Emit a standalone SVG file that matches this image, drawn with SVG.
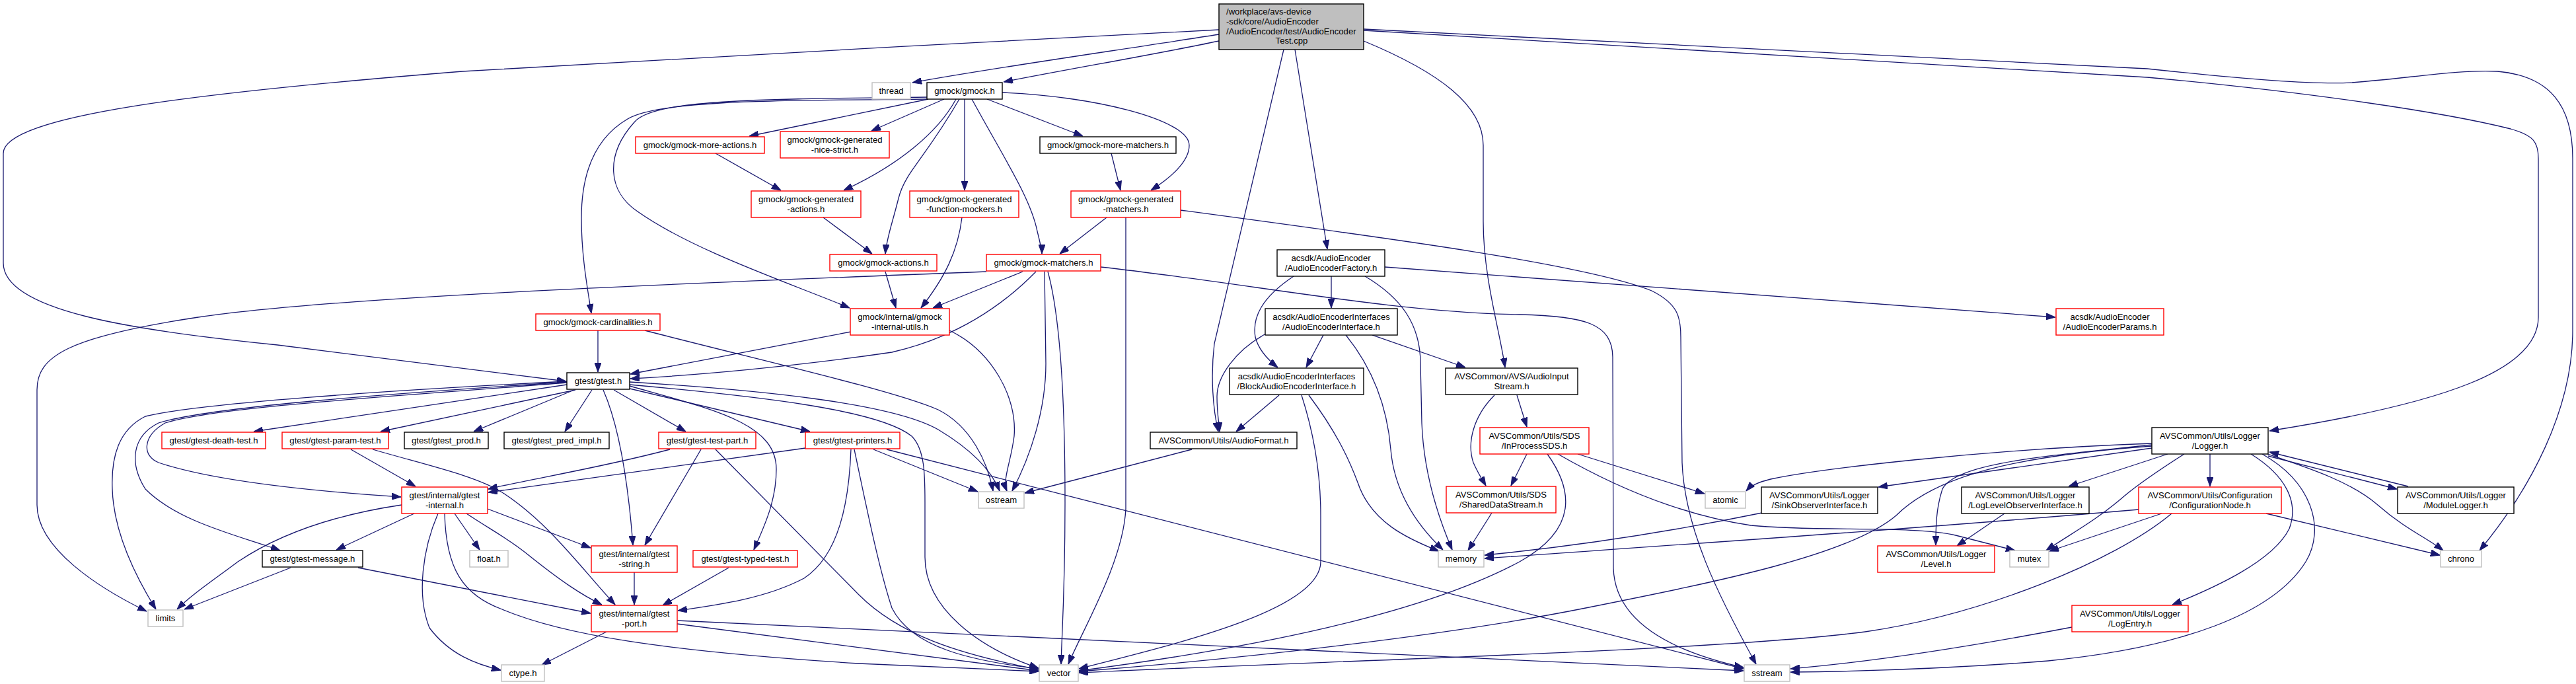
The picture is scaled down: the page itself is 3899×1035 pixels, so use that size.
<svg xmlns="http://www.w3.org/2000/svg" width="3899" height="1035" viewBox="0 0 3899 1035">
<style>
rect{fill:#fff;stroke:#000;stroke-width:1.4}
.r rect{stroke:#ff0000}
.g rect{stroke:#bfbfbf}
.m rect{fill:#bfbfbf;stroke:#000}
text{font-family:"Liberation Sans",Arial,sans-serif;font-size:13.1px;text-anchor:middle;fill:#000}
.m text{text-anchor:start}
#edges path{fill:none;stroke:#191970;stroke-width:1.3;marker-end:url(#a)}
</style>
<defs>
<marker id="a" markerWidth="14" markerHeight="10" refX="14" refY="5" orient="auto" markerUnits="userSpaceOnUse"><path d="M0,0 L14,5 L0,10 z" fill="#191970" stroke="#191970"/></marker>
</defs>
<rect x="0" y="0" width="3899" height="1035" style="fill:#fff;stroke:none"/>
<g id="edges">
<path d="M1845,52 C1700,75 1500,103 1381,125"/>
<path d="M1845,62 C1750,82 1620,104 1519,124"/>
<path d="M1845,45 C1500,62 900,96 700,108 C300,140 5,175 5,232 L5,398 C5,470 200,500 420,522 C600,545 760,565 857,577"/>
<path d="M1960,75 L2009,377"/>
<path d="M1943,75 L1838,520 C1832,570 1836,620 1844,653"/>
<path d="M2064,62 C2180,110 2245,160 2245,220 L2245,335 C2245,420 2270,500 2278,556"/>
<path d="M2064,46 L3250,117 C3500,140 3700,170 3800,195 C3835,205 3842,215 3842,240 L3842,480 C3842,560 3700,610 3435,652"/>
<path d="M2064,44 L3250,104 C3400,120 3500,128 3560,125 C3650,118 3720,105 3780,108 C3860,115 3894,160 3894,240 L3894,500 C3894,620 3830,740 3753,833"/>
<path d="M1405,150 L1134,206"/>
<path d="M1429,150 L1319,198"/>
<path d="M1447,150 C1420,200 1360,250 1277,288"/>
<path d="M1452,150 C1400,240 1370,260 1360,300 C1350,340 1342,360 1340,384"/>
<path d="M1460,150 L1460,288"/>
<path d="M1471,150 C1520,240 1560,300 1570,350 C1575,370 1577,378 1577,384"/>
<path d="M1494,150 L1639,206"/>
<path d="M1517,140 C1650,145 1800,180 1800,220 C1800,245 1770,270 1742,288"/>
<path d="M1403,150 C1200,152 1000,150 950,180 C890,215 880,280 880,330 C880,390 890,440 895,474"/>
<path d="M1403,147 C1150,150 990,150 960,185 C915,235 920,290 965,320 C1050,380 1200,430 1286,466"/>
<path d="M1083,232 L1182,288"/>
<path d="M1246,329 L1320,384"/>
<path d="M1340,411 L1356,466"/>
<path d="M1456,329 C1450,380 1430,420 1394,466"/>
<path d="M1682,232 L1696,288"/>
<path d="M1675,329 L1604,384"/>
<path d="M1704,329 L1704,770 C1700,850 1640,950 1617,1005"/>
<path d="M1787,318 C2100,360 2400,400 2500,440 C2540,460 2544,480 2544,510 L2546,700 C2550,800 2600,900 2658,1005"/>
<path d="M1493,411 C1000,430 500,450 300,480 C100,510 56,540 56,590 L56,764 C56,830 150,890 222,925"/>
<path d="M1548,411 L1412,466"/>
<path d="M1568,411 C1520,460 1450,510 1350,533 C1200,555 1050,568 954,573"/>
<path d="M1288,502 L954,566"/>
<path d="M1581,411 L1583,550 C1583,620 1560,690 1532,743"/>
<path d="M1586,411 C1605,480 1612,600 1612,760 C1612,900 1607,960 1606,1005"/>
<path d="M1666,404 C1900,430 2100,472 2300,476 C2400,478 2440,490 2441,540 L2442,860 C2445,950 2550,990 2639,1010"/>
<path d="M1437,500 C1500,530 1540,600 1535,660 C1530,700 1517,725 1524,743"/>
<path d="M905,500 L905,563"/>
<path d="M976,500 C1150,545 1350,590 1420,620 C1470,645 1495,700 1503,743"/>
<path d="M953,578 C1150,590 1350,610 1420,650 C1470,680 1500,710 1513,743"/>
<path d="M953,582 C1150,600 1330,620 1380,660 C1400,680 1400,720 1400,760 L1400,843 C1400,920 1480,980 1572,1011"/>
<path d="M858,577 C600,590 300,610 220,630 C180,650 168,690 170,740 C172,810 210,880 236,922"/>
<path d="M858,578 C600,595 320,615 240,640 C200,660 195,700 220,740 C270,790 360,810 424,833"/>
<path d="M858,579 C600,600 330,615 250,640 C215,660 215,690 240,700 C330,730 500,745 607,752"/>
<path d="M858,582 L384,653"/>
<path d="M871,590 L576,653"/>
<path d="M869,590 L717,653"/>
<path d="M896,590 L855,653"/>
<path d="M913,590 C935,640 950,720 958,825"/>
<path d="M929,590 L1038,653"/>
<path d="M953,588 L1226,653"/>
<path d="M953,584 C1080,620 1175,640 1175,710 C1175,760 1155,800 1141,832"/>
<path d="M531,680 L629,736"/>
<path d="M564,680 C650,705 720,720 760,745 C830,790 880,860 931,915"/>
<path d="M608,764 C500,780 420,810 360,850 C320,880 290,900 268,922"/>
<path d="M627,777 L509,832"/>
<path d="M663,777 C640,830 630,900 650,950 C680,990 720,1005 758,1014"/>
<path d="M673,777 C675,860 700,900 760,922 C850,960 1000,985 1300,1004 L1572,1016"/>
<path d="M688,777 L726,832"/>
<path d="M706,777 C740,800 770,815 800,840 C850,880 880,900 911,915"/>
<path d="M738,770 L894,829"/>
<path d="M440,859 L279,922"/>
<path d="M542,859 L894,928"/>
<path d="M1014,680 C900,710 800,725 739,740"/>
<path d="M1061,680 L976,825"/>
<path d="M1083,680 L1300,900 C1360,960 1450,990 1572,1013"/>
<path d="M1322,680 L1480,744"/>
<path d="M1342,680 L2639,1012"/>
<path d="M1219,678 L739,745"/>
<path d="M1288,680 C1285,760 1270,840 1217,875 C1160,905 1090,915 1026,924"/>
<path d="M1293,680 C1310,760 1330,860 1350,920 C1380,980 1470,1000 1572,1012"/>
<path d="M960,866 L960,915"/>
<path d="M1103,859 L1003,916"/>
<path d="M918,956 L820,1006"/>
<path d="M1025,939 L2639,1015"/>
<path d="M1025,944 L1572,1015"/>
<path d="M2015,418 L2015,466"/>
<path d="M1958,418 C1910,450 1895,480 1900,510 C1905,530 1920,545 1934,556"/>
<path d="M2066,418 C2120,450 2150,490 2150,550 L2152,640 C2155,720 2180,790 2198,832"/>
<path d="M2096,404 L3111,480"/>
<path d="M2003,507 L1977,556"/>
<path d="M2077,507 L2218,556"/>
<path d="M2037,507 C2080,560 2100,620 2105,680 C2110,740 2140,790 2184,832"/>
<path d="M1916,505 C1870,530 1842,570 1842,600 C1842,625 1845,640 1846,653"/>
<path d="M1936,598 L1871,653"/>
<path d="M1970,598 C1990,660 1999,720 1999,780 L1999,850 C1999,920 1800,970 1633,1012"/>
<path d="M1981,598 C2020,650 2040,690 2055,730 C2075,790 2130,815 2178,834"/>
<path d="M1804,680 L1551,746"/>
<path d="M2296,598 L2311,646"/>
<path d="M2262,598 C2230,630 2220,670 2230,700 C2238,718 2245,728 2249,735"/>
<path d="M2311,687 L2287,735"/>
<path d="M2342,687 C2380,740 2390,800 2300,850 C2150,930 1900,980 1633,1015"/>
<path d="M2388,687 L2580,747"/>
<path d="M2358,687 C2450,740 2550,780 2650,795 C2750,805 2900,795 2960,810 C3000,820 3030,828 3050,833"/>
<path d="M2258,776 L2222,833"/>
<path d="M3257,671 C3000,680 2750,710 2680,725 C2660,730 2650,735 2643,743"/>
<path d="M3257,678 L2843,737"/>
<path d="M3257,673 C3100,690 2960,700 2940,740 C2930,770 2930,800 2930,825"/>
<path d="M3281,687 L3131,736"/>
<path d="M3306,687 C3270,710 3240,730 3216,750 C3170,790 3130,810 3097,833"/>
<path d="M3345,687 L3345,736"/>
<path d="M3407,687 C3460,720 3480,760 3465,800 C3440,850 3350,890 3288,915"/>
<path d="M3424,687 C3500,730 3520,800 3490,850 C3440,930 3300,980 3100,1000 C2950,1012 2800,1016 2710,1017"/>
<path d="M3432,687 C3500,710 3560,730 3600,765 C3640,800 3675,815 3698,833"/>
<path d="M3433,690 L3628,740"/>
<path d="M3645,736 L3435,684"/>
<path d="M3257,675 C3050,690 2930,720 2870,780 C2800,840 2600,880 2400,920 C2200,960 1900,995 1633,1016"/>
<path d="M2667,776 C2550,800 2400,825 2247,840"/>
<path d="M3034,777 L2962,826"/>
<path d="M3237,771 C2900,800 2600,820 2247,845"/>
<path d="M3272,777 L3102,834"/>
<path d="M3287,777 C3200,850 3000,930 2823,956 C2600,985 2000,1000 1633,1018"/>
<path d="M3430,777 L3693,840"/>
<path d="M3136,949 C3000,975 2850,1000 2710,1012"/>
</g>
<g id="n_main" class="m"><rect x="1845" y="6" width="219" height="69"/><text x="1856" y="22">/workplace/avs-device</text><text x="1856" y="37">-sdk/core/AudioEncoder</text><text x="1856" y="51.5">/AudioEncoder/test/AudioEncoder</text><text x="1955" y="66" style="text-anchor:middle">Test.cpp</text></g>
<g id="n_thread" class="g"><rect x="1320" y="125" width="58" height="25"/><text x="1349" y="142">thread</text></g>
<g id="n_gmock"><rect x="1403" y="125" width="114" height="25"/><text x="1460" y="142">gmock/gmock.h</text></g>
<g id="n_more_actions" class="r"><rect x="962" y="207" width="195" height="25"/><text x="1059.5" y="224">gmock/gmock-more-actions.h</text></g>
<g id="n_nice_strict" class="r"><rect x="1181" y="199" width="165" height="40"/><text x="1263.5" y="216">gmock/gmock-generated</text><text x="1263.5" y="231">-nice-strict.h</text></g>
<g id="n_more_matchers"><rect x="1574" y="207" width="206" height="25"/><text x="1677" y="224">gmock/gmock-more-matchers.h</text></g>
<g id="n_gen_actions" class="r"><rect x="1137" y="289" width="166" height="40"/><text x="1220" y="306">gmock/gmock-generated</text><text x="1220" y="321">-actions.h</text></g>
<g id="n_func_mockers" class="r"><rect x="1377" y="289" width="165" height="40"/><text x="1459.5" y="306">gmock/gmock-generated</text><text x="1459.5" y="321">-function-mockers.h</text></g>
<g id="n_gen_matchers" class="r"><rect x="1621" y="289" width="166" height="40"/><text x="1704" y="306">gmock/gmock-generated</text><text x="1704" y="321">-matchers.h</text></g>
<g id="n_gmock_actions" class="r"><rect x="1256" y="385" width="162" height="25"/><text x="1337" y="402">gmock/gmock-actions.h</text></g>
<g id="n_gmock_matchers" class="r"><rect x="1493" y="385" width="173" height="25"/><text x="1579.5" y="402">gmock/gmock-matchers.h</text></g>
<g id="n_factory"><rect x="1933" y="378" width="163" height="40"/><text x="2014.5" y="395">acsdk/AudioEncoder</text><text x="2014.5" y="410">/AudioEncoderFactory.h</text></g>
<g id="n_cardinalities" class="r"><rect x="811" y="475" width="188" height="25"/><text x="905" y="492">gmock/gmock-cardinalities.h</text></g>
<g id="n_internal_utils" class="r"><rect x="1287" y="467" width="150" height="40"/><text x="1362" y="484">gmock/internal/gmock</text><text x="1362" y="499">-internal-utils.h</text></g>
<g id="n_interface"><rect x="1915" y="467" width="200" height="40"/><text x="2015" y="484">acsdk/AudioEncoderInterfaces</text><text x="2015" y="499">/AudioEncoderInterface.h</text></g>
<g id="n_params" class="r"><rect x="3112" y="467" width="163" height="40"/><text x="3193.5" y="484">acsdk/AudioEncoder</text><text x="3193.5" y="499">/AudioEncoderParams.h</text></g>
<g id="n_gtest"><rect x="858" y="564" width="95" height="25"/><text x="905.5" y="581">gtest/gtest.h</text></g>
<g id="n_block"><rect x="1861" y="557" width="203" height="40"/><text x="1962.5" y="574">acsdk/AudioEncoderInterfaces</text><text x="1962.5" y="589">/BlockAudioEncoderInterface.h</text></g>
<g id="n_inputstream"><rect x="2188" y="557" width="200" height="40"/><text x="2288" y="574">AVSCommon/AVS/AudioInput</text><text x="2288" y="589">Stream.h</text></g>
<g id="n_death" class="r"><rect x="245" y="654" width="157" height="25"/><text x="323.5" y="671">gtest/gtest-death-test.h</text></g>
<g id="n_param" class="r"><rect x="427" y="654" width="161" height="25"/><text x="507.5" y="671">gtest/gtest-param-test.h</text></g>
<g id="n_prod"><rect x="612" y="654" width="127" height="25"/><text x="675.5" y="671">gtest/gtest_prod.h</text></g>
<g id="n_pred"><rect x="763" y="654" width="159" height="25"/><text x="842.5" y="671">gtest/gtest_pred_impl.h</text></g>
<g id="n_testpart" class="r"><rect x="997" y="654" width="147" height="25"/><text x="1070.5" y="671">gtest/gtest-test-part.h</text></g>
<g id="n_printers" class="r"><rect x="1219" y="654" width="143" height="25"/><text x="1290.5" y="671">gtest/gtest-printers.h</text></g>
<g id="n_audioformat"><rect x="1741" y="654" width="222" height="25"/><text x="1852" y="671">AVSCommon/Utils/AudioFormat.h</text></g>
<g id="n_inprocess" class="r"><rect x="2240" y="647" width="165" height="40"/><text x="2322.5" y="664">AVSCommon/Utils/SDS</text><text x="2322.5" y="679">/InProcessSDS.h</text></g>
<g id="n_logger"><rect x="3257" y="647" width="176" height="40"/><text x="3345" y="664">AVSCommon/Utils/Logger</text><text x="3345" y="679">/Logger.h</text></g>
<g id="n_internal" class="r"><rect x="608" y="737" width="130" height="40"/><text x="673" y="754">gtest/internal/gtest</text><text x="673" y="769">-internal.h</text></g>
<g id="n_ostream" class="g"><rect x="1481" y="744" width="69" height="25"/><text x="1515.5" y="761">ostream</text></g>
<g id="n_shared" class="r"><rect x="2189" y="736" width="166" height="40"/><text x="2272" y="753">AVSCommon/Utils/SDS</text><text x="2272" y="768">/SharedDataStream.h</text></g>
<g id="n_atomic" class="g"><rect x="2581" y="744" width="61" height="25"/><text x="2611.5" y="761">atomic</text></g>
<g id="n_sink"><rect x="2666" y="737" width="176" height="40"/><text x="2754" y="754">AVSCommon/Utils/Logger</text><text x="2754" y="769">/SinkObserverInterface.h</text></g>
<g id="n_loglevel"><rect x="2969" y="737" width="193" height="40"/><text x="3065.5" y="754">AVSCommon/Utils/Logger</text><text x="3065.5" y="769">/LogLevelObserverInterface.h</text></g>
<g id="n_config" class="r"><rect x="3237" y="737" width="216" height="40"/><text x="3345" y="754">AVSCommon/Utils/Configuration</text><text x="3345" y="769">/ConfigurationNode.h</text></g>
<g id="n_module"><rect x="3629" y="737" width="176" height="40"/><text x="3717" y="754">AVSCommon/Utils/Logger</text><text x="3717" y="769">/ModuleLogger.h</text></g>
<g id="n_message"><rect x="397" y="833" width="152" height="25"/><text x="473" y="850">gtest/gtest-message.h</text></g>
<g id="n_float" class="g"><rect x="711" y="833" width="58" height="25"/><text x="740" y="850">float.h</text></g>
<g id="n_string" class="r"><rect x="895" y="826" width="130" height="40"/><text x="960" y="843">gtest/internal/gtest</text><text x="960" y="858">-string.h</text></g>
<g id="n_typed" class="r"><rect x="1049" y="833" width="158" height="25"/><text x="1128" y="850">gtest/gtest-typed-test.h</text></g>
<g id="n_memory" class="g"><rect x="2177" y="833" width="69" height="25"/><text x="2211.5" y="850">memory</text></g>
<g id="n_level" class="r"><rect x="2842" y="826" width="177" height="40"/><text x="2930.5" y="843">AVSCommon/Utils/Logger</text><text x="2930.5" y="858">/Level.h</text></g>
<g id="n_mutex" class="g"><rect x="3042" y="833" width="59" height="25"/><text x="3071.5" y="850">mutex</text></g>
<g id="n_chrono" class="g"><rect x="3694" y="833" width="62" height="25"/><text x="3725" y="850">chrono</text></g>
<g id="n_limits" class="g"><rect x="224" y="923" width="53" height="25"/><text x="250.5" y="940">limits</text></g>
<g id="n_port" class="r"><rect x="895" y="916" width="130" height="40"/><text x="960" y="933">gtest/internal/gtest</text><text x="960" y="948">-port.h</text></g>
<g id="n_logentry" class="r"><rect x="3136" y="916" width="176" height="40"/><text x="3224" y="933">AVSCommon/Utils/Logger</text><text x="3224" y="948">/LogEntry.h</text></g>
<g id="n_ctype" class="g"><rect x="759" y="1006" width="65" height="25"/><text x="791.5" y="1023">ctype.h</text></g>
<g id="n_vector" class="g"><rect x="1573" y="1006" width="59" height="25"/><text x="1602.5" y="1023">vector</text></g>
<g id="n_sstream" class="g"><rect x="2640" y="1006" width="69" height="25"/><text x="2674.5" y="1023">sstream</text></g>
</svg>
